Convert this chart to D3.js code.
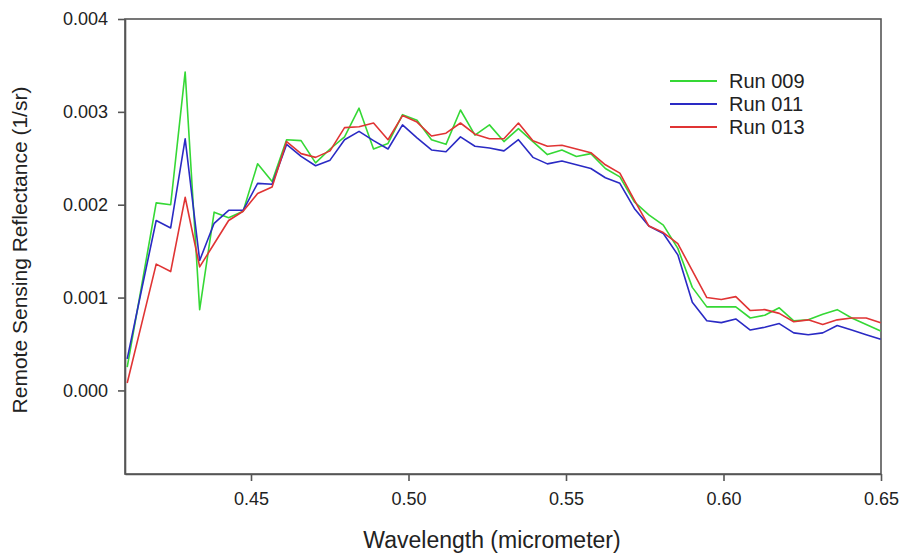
<!DOCTYPE html>
<html>
<head>
<meta charset="utf-8">
<script src="https://cdn.jsdelivr.net/npm/d3@7"></script>
<style>
    body { margin: 0; background: #fff; }
    #chart-area { width: 904px; height: 555px; }
    text { font-family: "Liberation Sans", Arial, sans-serif; fill: #222; }
</style>
</head>
<body>
<div id="chart-area"></div>
<script>

// wavelength samples (micrometer)
let wavelengths = [
    0.4107, 0.4153, 0.4199, 0.4245, 0.4291, 0.4337, 0.4383, 0.4429, 0.4475, 0.4521,
    0.4567, 0.4613, 0.4659, 0.4705, 0.4751, 0.4797, 0.4843, 0.4889, 0.4935, 0.4981,
    0.5027, 0.5073, 0.5119, 0.5165, 0.5211, 0.5257, 0.5303, 0.5349, 0.5395, 0.5441,
    0.5487, 0.5533, 0.5579, 0.5625, 0.5671, 0.5717, 0.5763, 0.5809, 0.5855, 0.5901,
    0.5947, 0.5993, 0.6039, 0.6085, 0.6131, 0.6177, 0.6223, 0.6269, 0.6315, 0.6361,
    0.6407, 0.6453, 0.6499
];

// remote sensing reflectance (1/sr)
let run009 = [
    0.00025, 0.00113, 0.00202, 0.00200, 0.00343, 0.00087, 0.00192, 0.00186, 0.00193, 0.00244,
    0.00225, 0.00270, 0.00269, 0.00245, 0.00260, 0.00273, 0.00304, 0.00260, 0.00266, 0.00297,
    0.00291, 0.00270, 0.00265, 0.00302, 0.00275, 0.00286, 0.00268, 0.00282, 0.00268, 0.00254,
    0.00259, 0.00252, 0.00255, 0.00239, 0.00230, 0.00203, 0.00189, 0.00178, 0.00153, 0.00111,
    0.00090, 0.00090, 0.00090, 0.00078, 0.00081, 0.00089, 0.00075, 0.00076, 0.00082, 0.00087,
    0.00078, 0.00071, 0.00064
];

let run011 = [
    0.00034, 0.00109, 0.00183, 0.00175, 0.00271, 0.00140, 0.00180, 0.00194, 0.00194, 0.00223,
    0.00222, 0.00265, 0.00252, 0.00242, 0.00248, 0.00270, 0.00279, 0.00269, 0.00260, 0.00286,
    0.00272, 0.00259, 0.00257, 0.00273, 0.00263, 0.00261, 0.00258, 0.00270, 0.00251, 0.00244,
    0.00247, 0.00243, 0.00239, 0.00229, 0.00223, 0.00196, 0.00177, 0.00169, 0.00146, 0.00095,
    0.00075, 0.00073, 0.00077, 0.00065, 0.00068, 0.00072, 0.00062, 0.00060, 0.00062, 0.00070,
    0.00065, 0.00060, 0.00055
];

let run013 = [
    0.00008, 0.00072, 0.00136, 0.00128, 0.00208, 0.00133, 0.00158, 0.00183, 0.00193, 0.00212,
    0.00219, 0.00268, 0.00255, 0.00251, 0.00258, 0.00283, 0.00284, 0.00288, 0.00270, 0.00296,
    0.00289, 0.00274, 0.00277, 0.00288, 0.00276, 0.00271, 0.00271, 0.00288, 0.00269, 0.00263,
    0.00264, 0.00260, 0.00256, 0.00243, 0.00234, 0.00205, 0.00177, 0.00170, 0.00158, 0.00129,
    0.00100, 0.00098, 0.00101, 0.00086, 0.00087, 0.00083, 0.00074, 0.00076, 0.00071, 0.00076,
    0.00078, 0.00078, 0.00073
];

let seriesNames = ["Run 009", "Run 011", "Run 013"];
let seriesColors = ["#35d835", "#2a2ac4", "#e03434"];

let xTicks = [0.45, 0.50, 0.55, 0.60, 0.65];
let yTicks = [0.000, 0.001, 0.002, 0.003, 0.004];


class SpectrumVis {

    constructor(parentElement) {
        this.parentElement = parentElement;
        this.initVis();
    }

    initVis() {
        let vis = this;

        vis.margin = {top: 19, right: 23, bottom: 81, left: 125};
        vis.width = 904 - vis.margin.left - vis.margin.right;
        vis.height = 555 - vis.margin.top - vis.margin.bottom;

        vis.svg = d3.select("#" + vis.parentElement).append("svg")
            .attr("width", 904)
            .attr("height", 555)
            .append("g")
            .attr("transform", `translate(${vis.margin.left}, ${vis.margin.top})`);

        vis.x = d3.scaleLinear()
            .domain([0.41, 0.65])
            .range([0, vis.width]);

        vis.y = d3.scaleLinear()
            .domain([-0.0009, 0.004])
            .range([vis.height, 0]);

        // frame (top + right edges)
        vis.svg.append("rect")
            .attr("width", vis.width)
            .attr("height", vis.height)
            .attr("fill", "none")
            .attr("stroke", "#555")
            .attr("stroke-width", 1.6);

        let xAxis = d3.axisBottom(vis.x)
            .tickValues(xTicks)
            .tickFormat(d3.format(".2f"))
            .tickSize(7)
            .tickSizeOuter(0)
            .tickPadding(11);

        let yAxis = d3.axisLeft(vis.y)
            .tickValues(yTicks)
            .tickFormat(d3.format(".3f"))
            .tickSize(7)
            .tickSizeOuter(0)
            .tickPadding(10);

        vis.svg.append("g")
            .attr("class", "axis")
            .attr("transform", `translate(0, ${vis.height})`)
            .call(xAxis);

        vis.svg.append("g")
            .attr("class", "axis")
            .call(yAxis);

        vis.svg.selectAll(".axis path, .axis line")
            .attr("stroke", "#555")
            .attr("stroke-width", 1.6);
        vis.svg.selectAll(".axis text")
            .attr("font-size", 18)
            .attr("fill", "#222")
            .attr("font-family", "Liberation Sans, Arial, sans-serif");

        // axis titles
        vis.svg.append("text")
            .attr("x", vis.width / 2 - 11)
            .attr("y", vis.height + 74)
            .attr("text-anchor", "middle")
            .attr("font-size", 23)
            .text("Wavelength (micrometer)");

        vis.svg.append("text")
            .attr("transform", `translate(${-98}, ${231}) rotate(-90)`)
            .attr("text-anchor", "middle")
            .attr("font-size", 21)
            .text("Remote Sensing Reflectance (1/sr)");

        vis.line = d3.line()
            .x(d => vis.x(d.wl))
            .y(d => vis.y(d.value));

        vis.wrangleData();
    }

    wrangleData() {
        let vis = this;

        let allRuns = [run009, run011, run013];
        vis.displayData = seriesNames.map((name, i) => ({
            name: name,
            color: seriesColors[i],
            values: wavelengths.map((wl, j) => ({wl: wl, value: allRuns[i][j]}))
        }));

        vis.updateVis();
    }

    updateVis() {
        let vis = this;

        vis.svg.selectAll(".run-line")
            .data(vis.displayData)
            .enter().append("path")
            .attr("class", "run-line")
            .attr("d", d => vis.line(d.values))
            .attr("fill", "none")
            .attr("stroke", d => d.color)
            .attr("stroke-width", 1.6)
            .attr("stroke-linejoin", "round");

        // legend
        let legend = vis.svg.selectAll(".legend-item")
            .data(vis.displayData)
            .enter().append("g")
            .attr("class", "legend-item")
            .attr("transform", (d, i) => `translate(${545}, ${62 + i * 23})`);

        legend.append("line")
            .attr("x1", 0)
            .attr("x2", 47)
            .attr("stroke", d => d.color)
            .attr("stroke-width", 1.8);

        legend.append("text")
            .attr("x", 59)
            .attr("y", 7)
            .attr("font-size", 20)
            .text(d => d.name);
    }
}

let spectrumVis = new SpectrumVis("chart-area");

</script>
</body>
</html>
